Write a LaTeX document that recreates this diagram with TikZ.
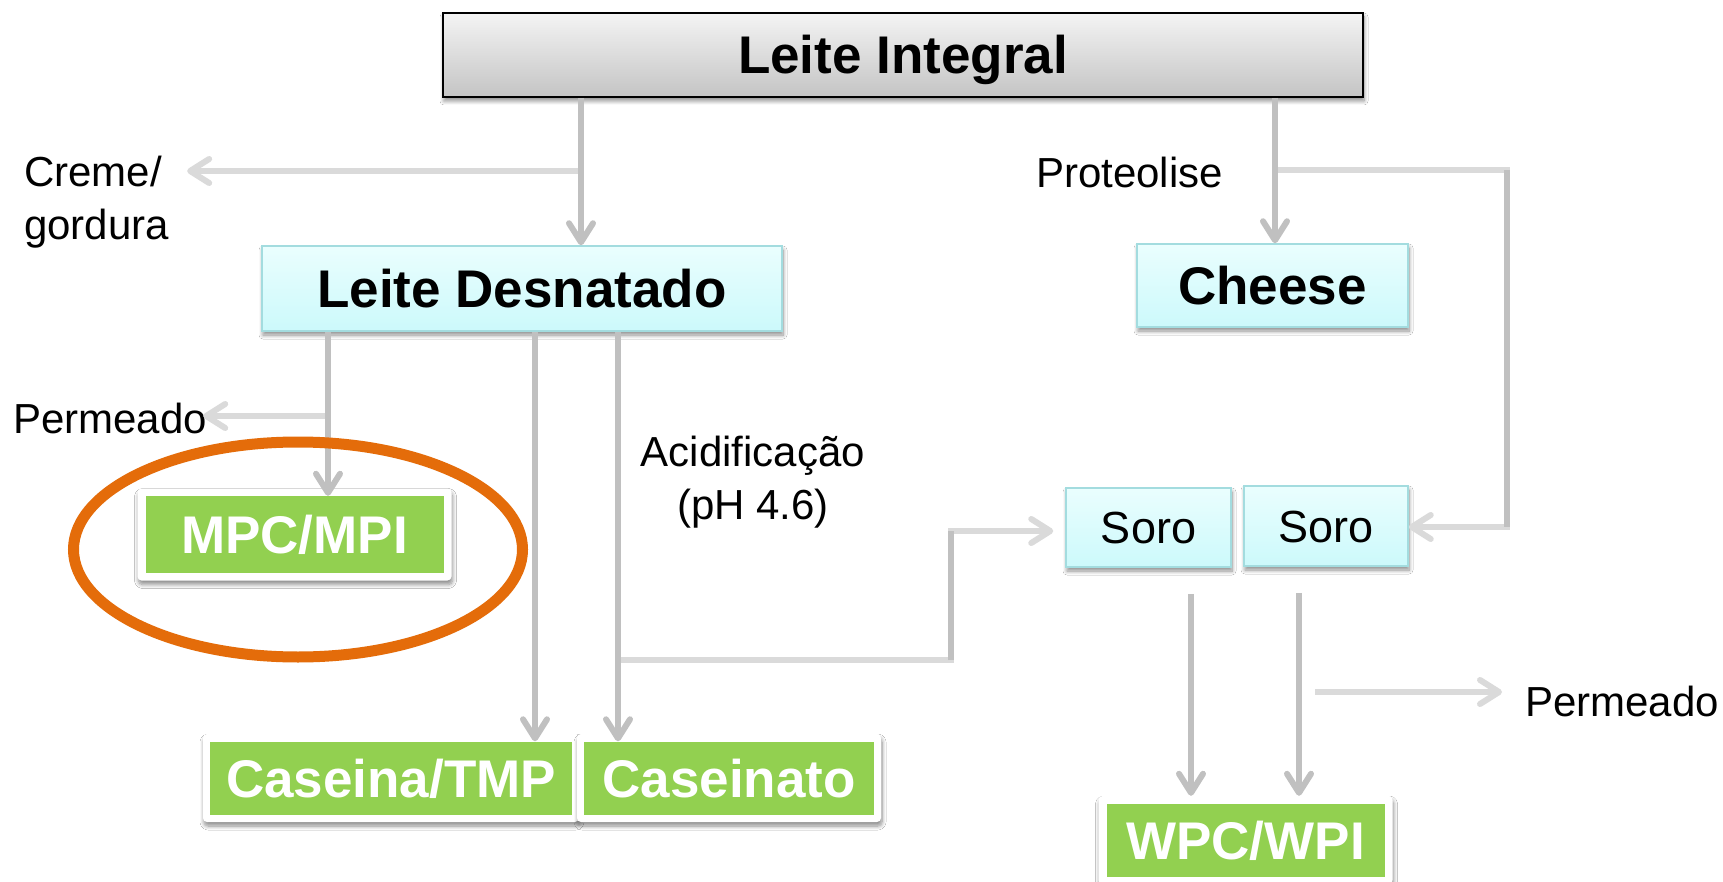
\documentclass[tikz,border=0pt]{standalone}
\usepackage{fontspec}
\setmainfont{Liberation Sans}
\usetikzlibrary{arrows.meta,shadows.blur,shapes.geometric}
\definecolor{lineD}{HTML}{C0C0C0}
\definecolor{lineL}{HTML}{DADADA}
\definecolor{grn}{HTML}{92D050}
\definecolor{org}{HTML}{E46C0A}
\definecolor{cyT}{HTML}{EAFEFE}
\definecolor{cyB}{HTML}{CCF9FB}
\definecolor{cyE}{HTML}{A3DCDF}
\definecolor{gyT}{HTML}{F4F4F4}
\definecolor{gyB}{HTML}{C4C4C4}
\begin{document}
\begin{tikzpicture}[x=1pt,y=-1pt,
  shad/.style={blur shadow={shadow xshift=1pt,shadow yshift=-4pt,shadow blur radius=4pt,shadow blur steps=8,shadow opacity=45}},
  topbox/.style={draw=black, line width=2pt, top color=gyT, bottom color=gyB, shad,
    inner sep=0, text height=38pt, text depth=0pt, font=\fontsize{53}{60}\selectfont\bfseries},
  cybox/.style={draw=cyE, line width=1.5pt, top color=cyT, bottom color=cyB, shad, inner sep=0, text depth=0pt},
  cyhead/.style={cybox, text height=38pt, font=\fontsize{53}{60}\selectfont\bfseries},
  cysmall/.style={cybox, text height=32pt, font=\fontsize{45}{52}\selectfont},
  gframe/.style={fill=white, rounded corners=4pt, inner sep=0,
    blur shadow={shadow xshift=1pt,shadow yshift=-4pt,shadow blur radius=4pt,shadow blur steps=8,shadow opacity=45}},
  gbox/.style={fill=grn, text=white, inner sep=0,
    text height=38pt, text depth=0pt, font=\fontsize{53}{60}\selectfont\bfseries},
  lbl/.style={inner sep=0, font=\fontsize{42}{53}\selectfont},
  arr/.style={draw=lineD, line width=6pt, -{Straight Barb[length=19pt,width=24pt,round]}},
  arrL/.style={arr, draw=lineL},
  seg/.style={draw=lineD, line width=6pt},
  hilite/.style={ellipse, draw=org, line width=11pt, inner sep=0}
]
\fill[white] (0,0) rectangle (1723,882);
\useasboundingbox (0,0) rectangle (1723,882);

% boxes
\node[topbox, minimum width=920pt, minimum height=84pt] (LI) at (903,55) {Leite Integral};
\node[cyhead, minimum width=520pt, minimum height=85pt] (LD) at (522,288.5) {Leite Desnatado};
\node[cyhead, minimum width=271pt, minimum height=83pt] (CH) at (1272.5,285.5) {Cheese};
\node[cysmall, minimum width=165pt, minimum height=79pt] (S1) at (1148.5,527.5) {Soro};
\node[cysmall, minimum width=164pt, minimum height=80pt] (S2) at (1326,526) {Soro};

\node[gframe, minimum width=314pt, minimum height=92pt] (MPCf) at (294.5,534.5) {};
\node[gbox, minimum width=298pt, minimum height=77pt] (MPC) at (294.5,534.5) {MPC/MPI};
\node[gframe, minimum width=376pt, minimum height=88pt] (CASf) at (391,778) {};
\node[gbox, minimum width=362pt, minimum height=73pt] (CAS) at (391,778) {Caseina/TMP};
\node[gframe, minimum width=304pt, minimum height=88pt] (CATf) at (729,778) {};
\node[gbox, minimum width=290pt, minimum height=73pt] (CAT) at (729,778) {Caseinato};
\node[gframe, minimum width=294pt, minimum height=88pt] (WPCf) at (1245.5,840) {};
\node[gbox, minimum width=278pt, minimum height=73pt] (WPC) at (1245.5,840) {WPC/WPI};

% labels
\node[lbl, anchor=north west, align=left] (creme) at (24,156) {Creme/\\gordura};
\node[lbl, anchor=west] (perm1) at (13,418) {Permeado};
\node[lbl, anchor=west] (prot) at (1036,172) {Proteolise};
\node[lbl, align=center, anchor=north] (acid) at (753,436) {Acidificação\\(pH 4.6)};
\node[lbl, anchor=west] (perm2) at (1525,701) {Permeado};

% junction coordinates
\coordinate (a1) at (581,171);
\coordinate (a2) at (1275,170);
\coordinate (a3) at (1507,527);
\coordinate (a4) at (328,416);
\coordinate (a5) at (535,660);
\coordinate (a6) at (618,660);
\coordinate (a7) at (951,531);
\coordinate (a8) at (1191,692);
\coordinate (a9) at (1299,692);

% connectors
\draw[arrL] (a1) -- ([xshift=18pt]creme.east |- a1);
\draw[arr] (LI.south -| a1) -- (LD.north -| a1);

\draw[arrL] (a2) -- (a2 -| a3) -- (a3) -- (S2.east |- a3);
\draw[seg] (a2 -| a3) -- (a3);
\draw[arr] (LI.south -| a2) -- (CH.north -| a2);

\draw[arrL] (a4) -- ([xshift=-4pt]perm1.east |- a4);
\draw[arr] (LD.south -| a4) -- (MPC.north -| a4);

\draw[arr] (LD.south -| a5) -- (CAS.north -| a5);
\draw[arrL, shorten >=12pt] (a6) -- (a6 -| a7) -- (a7) -- (S1.west |- a7);
\draw[seg] (a6 -| a7) -- (a7);
\draw[arr] (LD.south -| a6) -- (CAT.north -| a6);

\draw[arr, shorten <=26pt] (S1.south -| a8) -- (WPCf.north -| a8);
\draw[arr, shorten <=26pt] (S2.south -| a9) -- (WPCf.north -| a9);
\draw[arrL, shorten >=23pt] ([xshift=16pt]a9) -- (perm2.west |- a9);

% highlight
\node[hilite, minimum width=449pt, minimum height=215pt] (hl) at (298,549.5) {};
\end{tikzpicture}
\end{document}
